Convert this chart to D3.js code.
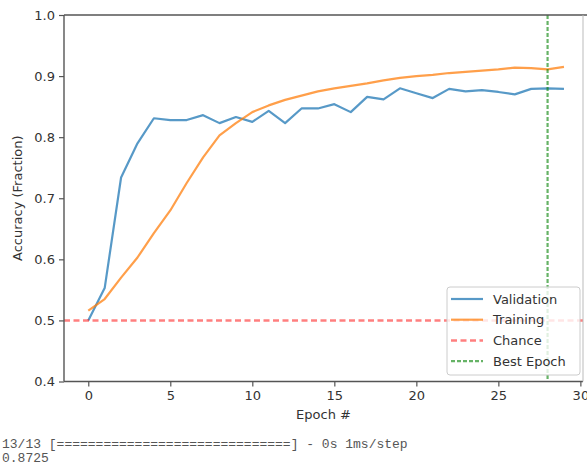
<!DOCTYPE html>
<html><head><meta charset="utf-8">
<script src="https://cdn.jsdelivr.net/npm/d3@7"></script>
<style>
body{margin:0;background:#fff;}
svg{display:block;}
</style></head>
<body>
<svg id="c" width="587" height="470"></svg>
<script>
const epochs = d3.range(0, 30);
const validation = [0.500,0.553,0.734,0.790,0.831,0.828,0.828,0.836,0.823,0.833,0.825,0.843,0.823,0.847,0.847,0.854,0.841,0.866,0.862,0.880,0.872,0.864,0.879,0.875,0.877,0.874,0.870,0.879,0.880,0.879];
const training = [0.516,0.535,0.570,0.603,0.643,0.680,0.725,0.767,0.803,0.823,0.841,0.852,0.861,0.868,0.875,0.880,0.884,0.888,0.893,0.897,0.900,0.902,0.905,0.907,0.909,0.911,0.914,0.913,0.911,0.915];
const chance = 0.5;
const bestEpoch = 28;
const xTicks = [0,5,10,15,20,25,30];
const yTicks = [0.4,0.5,0.6,0.7,0.8,0.9,1.0];
const legendLabels = ["Validation","Training","Chance","Best Epoch"];
const consoleLines = ["13/13 [==============================] - 0s 1ms/step","0.8725"];

const svg = d3.select("#c");
const L = 64, R = 583, T = 15, B = 381.5;
const x = d3.scaleLinear().domain([-1.48, 30.16]).range([L, R]);
const y = d3.scaleLinear().domain([0.4, 1.0]).range([B, T]);
const font = "DejaVu Sans, sans-serif";

// lines
const line = d3.line().x((d,i)=>x(epochs[i])).y(d=>y(d));
const plot = svg.append("g");
plot.append("path").datum(validation).attr("d", line)
  .attr("fill","none").attr("stroke","#1f77b4").attr("stroke-width",2.2).attr("stroke-opacity",0.75).attr("stroke-linejoin","round");
plot.append("path").datum(training).attr("d", line)
  .attr("fill","none").attr("stroke","#ff7f0e").attr("stroke-width",2.2).attr("stroke-opacity",0.75).attr("stroke-linejoin","round");
plot.append("line").attr("x1",L).attr("x2",R).attr("y1",y(chance)).attr("y2",y(chance))
  .attr("stroke","#ff0000").attr("stroke-opacity",0.5).attr("stroke-width",2.5).attr("stroke-dasharray","6,3.5");
plot.append("line").attr("x1",x(bestEpoch)).attr("x2",x(bestEpoch)).attr("y1",T).attr("y2",B)
  .attr("stroke","#008000").attr("stroke-opacity",0.6).attr("stroke-width",2.2).attr("stroke-dasharray","4,2");

// axes
const gx = svg.append("g").attr("transform",`translate(0,${B})`)
  .call(d3.axisBottom(x).tickValues(xTicks).tickFormat(d3.format("d")).tickSize(5).tickPadding(4));
const gy = svg.append("g").attr("transform",`translate(${L},0)`)
  .call(d3.axisLeft(y).tickValues(yTicks).tickFormat(d3.format(".1f")).tickSize(5).tickPadding(4));
[gx,gy].forEach(g=>{
  g.select(".domain").remove();
  g.selectAll(".tick line").attr("stroke","#555").attr("stroke-width",1.2);
  g.selectAll(".tick text").attr("font-family",font).attr("font-size",13).attr("fill","#333");
});
// spines
svg.append("line").attr("x1",L).attr("x2",L).attr("y1",T).attr("y2",B).attr("stroke","#555").attr("stroke-width",1.4);
svg.append("line").attr("x1",L).attr("x2",R).attr("y1",B).attr("y2",B).attr("stroke","#555").attr("stroke-width",1.4);
svg.append("line").attr("x1",L).attr("x2",587).attr("y1",T).attr("y2",T).attr("stroke","#555").attr("stroke-width",1.4);
svg.append("line").attr("x1",R).attr("x2",R).attr("y1",T).attr("y2",B).attr("stroke","#bbb").attr("stroke-width",1);

// axis labels
svg.append("text").attr("x",(L+R)/2).attr("y",419).attr("text-anchor","middle")
  .attr("font-family",font).attr("font-size",13).attr("fill","#333").text("Epoch #");
svg.append("text").attr("transform",`translate(22,${(T+B)/2}) rotate(-90)`).attr("text-anchor","middle")
  .attr("font-family",font).attr("font-size",13).attr("fill","#333").text("Accuracy (Fraction)");

// legend
const lg = svg.append("g").attr("transform","translate(447,287)");
lg.append("rect").attr("x",0).attr("y",0).attr("width",133).attr("height",88).attr("rx",3)
  .attr("fill","#fff").attr("fill-opacity",0.8).attr("stroke","#ccc").attr("stroke-width",1);
const styles = [
  {c:"#1f77b4",o:0.75,d:null,w:2.2},
  {c:"#ff7f0e",o:0.75,d:null,w:2.2},
  {c:"#ff0000",o:0.5,d:"6,3.5",w:2.5},
  {c:"#008000",o:0.6,d:"4,2",w:2.2}
];
legendLabels.forEach((lab,i)=>{
  const yy = 12 + i*20.7;
  const ln = lg.append("line").attr("x1",4).attr("x2",36).attr("y1",yy).attr("y2",yy)
    .attr("stroke",styles[i].c).attr("stroke-opacity",styles[i].o).attr("stroke-width",styles[i].w);
  if (styles[i].d) ln.attr("stroke-dasharray",styles[i].d);
  lg.append("text").attr("x",46).attr("y",yy+4.5).attr("font-family",font).attr("font-size",13)
    .attr("fill","#333").text(lab);
});

// console output
consoleLines.forEach((t,i)=>{
  svg.append("text").attr("x",2).attr("y",448+i*14).attr("font-family","Liberation Mono, monospace")
    .attr("font-size",13).attr("fill","#555").attr("xml:space","preserve").text(t);
});
</script>
</body></html>
